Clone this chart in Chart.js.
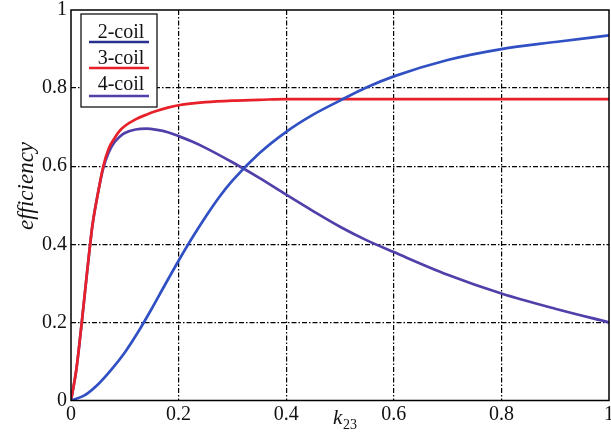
<!DOCTYPE html>
<html>
<head>
<meta charset="utf-8">
<script src="https://cdn.jsdelivr.net/npm/chart.js@4"></script>
<style>
html,body{margin:0;padding:0;background:#fff;}
#wrap{width:611px;height:438px;}
</style>
</head>
<body>
<div id="wrap"><canvas id="c" width="611" height="438"></canvas></div>
<script>
// ---- data ----
const seriesLabels = ['2-coil', '3-coil', '4-coil'];
const seriesColors = ['#3050c4', '#e8202a', '#5240aa'];
const legendColors = ['#2a3090', '#e8202a', '#5240aa'];

const k2 = [0, 0.025, 0.05, 0.075, 0.1, 0.125, 0.15, 0.175, 0.2, 0.225, 0.25, 0.275, 0.3, 0.35, 0.4, 0.45, 0.5, 0.55, 0.6, 0.7, 0.8, 0.9, 1.0];
const eff2 = [0, 0.013, 0.041, 0.079, 0.123, 0.176, 0.235, 0.297, 0.358, 0.416, 0.47, 0.52, 0.563, 0.633, 0.688, 0.732, 0.768, 0.802, 0.83, 0.872, 0.9, 0.918, 0.935];

const k3 = [0, 0.01, 0.02, 0.03, 0.04, 0.05, 0.06, 0.07, 0.08, 0.09, 0.1, 0.12, 0.14, 0.16, 0.18, 0.2, 0.25, 0.3, 0.35, 0.4, 0.5, 0.6, 0.7, 0.8, 0.9, 1.0];
const eff3 = [0, 0.08, 0.2, 0.33, 0.45, 0.53, 0.6, 0.645, 0.67, 0.69, 0.703, 0.72, 0.732, 0.742, 0.75, 0.756, 0.764, 0.768, 0.77, 0.772, 0.772, 0.772, 0.772, 0.772, 0.772, 0.772];

const k4 = [0, 0.01, 0.02, 0.03, 0.04, 0.05, 0.06, 0.07, 0.08, 0.09, 0.1, 0.12, 0.14, 0.16, 0.18, 0.2, 0.225, 0.25, 0.3, 0.35, 0.4, 0.45, 0.5, 0.55, 0.6, 0.7, 0.8, 0.9, 1.0];
const eff4 = [0, 0.08, 0.2, 0.33, 0.45, 0.53, 0.595, 0.635, 0.66, 0.675, 0.685, 0.694, 0.696, 0.693, 0.687, 0.677, 0.663, 0.647, 0.61, 0.57, 0.527, 0.485, 0.445, 0.41, 0.38, 0.322, 0.274, 0.235, 0.2];

const xTicks = [0, 0.2, 0.4, 0.6, 0.8, 1];
const yTicks = [0, 0.2, 0.4, 0.6, 0.8, 1];
const xTitleMain = 'k';
const xTitleSub = '23';
const yTitle = 'efficiency';

function pts(xs, ys) { return xs.map((x, i) => ({x: x, y: ys[i]})); }

const SERIF = '"Liberation Serif", "DejaVu Serif", serif';

const framePlugin = {
  id: 'frame',
  afterDraw(chart) {
    const {ctx, chartArea: a} = chart;
    ctx.save();
    ctx.strokeStyle = '#000';
    ctx.lineWidth = 1.5;
    ctx.setLineDash([]);
    ctx.strokeRect(a.left, a.top, a.right - a.left, a.bottom - a.top);

    // legend box
    const bx = a.left + 10, by = a.top + 4, bw = 76, bh = 93;
    ctx.fillStyle = '#fff';
    ctx.fillRect(bx, by, bw, bh);
    ctx.lineWidth = 1.2;
    ctx.strokeRect(bx, by, bw, bh);
    ctx.font = '20px ' + SERIF;
    ctx.textAlign = 'center';
    ctx.textBaseline = 'alphabetic';
    const textY = [by + 24, by + 50, by + 76];
    const lineY = [by + 28, by + 54, by + 82];
    chart.data.datasets.forEach((ds, i) => {
      ctx.fillStyle = '#111';
      ctx.fillText(ds.label, bx + 40, textY[i]);
      ctx.strokeStyle = legendColors[i];
      ctx.lineWidth = 2.6;
      ctx.beginPath();
      ctx.moveTo(bx + 8, lineY[i]);
      ctx.lineTo(bx + 68, lineY[i]);
      ctx.stroke();
    });

    // axis titles
    ctx.fillStyle = '#111';
    ctx.font = 'italic 21px ' + SERIF;
    ctx.textAlign = 'left';
    const cx = (a.left + a.right) / 2 + 2;
    ctx.fillText(xTitleMain, cx - 9, 424);
    ctx.font = '14px ' + SERIF;
    ctx.fillText(xTitleSub, cx + 1, 429);

    ctx.save();
    ctx.translate(27, 186);
    ctx.rotate(-Math.PI / 2);
    ctx.font = 'italic 23px ' + SERIF;
    ctx.textAlign = 'center';
    ctx.textBaseline = 'middle';
    ctx.fillText(yTitle, 0, 0);
    ctx.restore();
    ctx.restore();
  }
};

const gridColor = (c) => (c.tick && (c.tick.value === 0 || c.tick.value === 1)) ? 'rgba(0,0,0,0)' : '#000';

new Chart(document.getElementById('c'), {
  type: 'line',
  data: {
    datasets: [
      {label: seriesLabels[0], data: pts(k2, eff2), borderColor: seriesColors[0]},
      {label: seriesLabels[1], data: pts(k3, eff3), borderColor: seriesColors[1]},
      {label: seriesLabels[2], data: pts(k4, eff4), borderColor: seriesColors[2]}
    ]
  },
  options: {
    responsive: false,
    animation: false,
    events: [],
    layout: {padding: {top: 10, right: 2, left: 0, bottom: 0}},
    elements: {
      line: {borderWidth: 2.7, tension: 0.4, cubicInterpolationMode: 'monotone', fill: false},
      point: {radius: 0}
    },
    plugins: {legend: {display: false}, tooltip: {enabled: false}},
    scales: {
      x: {
        type: 'linear', min: 0, max: 1,
        afterBuildTicks: (s) => { s.ticks = xTicks.map(v => ({value: v})); },
        afterFit: (s) => { s.height = 37.5; s.paddingLeft = 0; s.paddingRight = 0; },
        grid: {color: gridColor, lineWidth: 1.2, drawTicks: false},
        border: {display: false, dash: [5, 2, 1.5, 2]},
        ticks: {
          padding: 2, color: '#111', font: {family: SERIF, size: 20},
          callback: (v) => String(v)
        }
      },
      y: {
        type: 'linear', min: 0, max: 1,
        afterBuildTicks: (s) => { s.ticks = yTicks.map(v => ({value: v})); },
        afterFit: (s) => { s.width = 71; s.paddingTop = 0; s.paddingBottom = 0; },
        grid: {color: gridColor, lineWidth: 1.2, drawTicks: false},
        border: {display: false, dash: [5, 2, 1.5, 2]},
        ticks: {
          padding: 4, color: '#111', font: {family: SERIF, size: 20},
          callback: (v) => String(v)
        }
      }
    }
  },
  plugins: [framePlugin]
});
</script>
</body>
</html>
